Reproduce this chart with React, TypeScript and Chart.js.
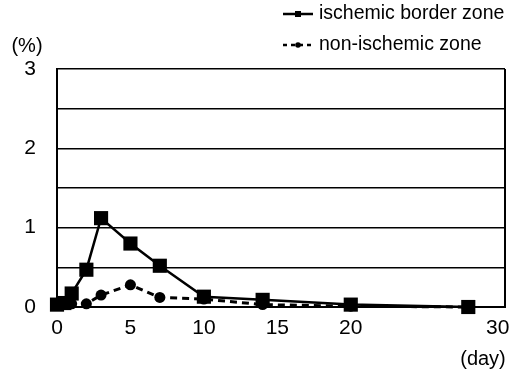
import React, { useEffect, useRef } from "react";
import { Chart, registerables } from "chart.js";

Chart.register(...registerables);

const FONT = "'Liberation Sans', Arial, Helvetica, sans-serif";

const days = [0, 0.5, 1, 2, 3, 5, 7, 10, 14, 20, 28];
const ischemicBorder = [0.03, 0.05, 0.17, 0.47, 1.12, 0.8, 0.52, 0.13, 0.09, 0.03, 0.0];
const nonIschemic = [0.02, 0.03, 0.04, 0.04, 0.15, 0.28, 0.12, 0.1, 0.03, 0.01, 0.0];
const xTickValues = [0, 5, 10, 15, 20, 30];
const yTickLabels = [0, 1, 2, 3];
const seriesNames = ["ischemic border zone", "non-ischemic zone"];

const extrasPlugin = {
  id: "extras",
  afterDraw(chart: any) {
    const { ctx, chartArea } = chart;
    ctx.save();
    // right border
    ctx.strokeStyle = "#000";
    ctx.lineWidth = 2;
    ctx.beginPath();
    ctx.moveTo(chartArea.right, chartArea.top);
    ctx.lineTo(chartArea.right, chartArea.bottom);
    ctx.stroke();
    // axis titles
    ctx.fillStyle = "#000";
    ctx.font = `20px ${FONT}`;
    ctx.textAlign = "center";
    ctx.textBaseline = "middle";
    ctx.fillText("(%)", 27, 46);
    ctx.fillText("(day)", 483, 359);
    // legend
    const lx0 = 283, lx1 = 313, tx = 319;
    const rows = [14, 45];
    ctx.textAlign = "left";
    ctx.font = `19.5px ${FONT}`;
    // row 1: solid with square
    ctx.lineWidth = 2.5;
    ctx.setLineDash([]);
    ctx.beginPath();
    ctx.moveTo(lx0, rows[0]);
    ctx.lineTo(lx1, rows[0]);
    ctx.stroke();
    ctx.fillRect((lx0 + lx1) / 2 - 3, rows[0] - 3, 6, 6);
    ctx.fillText(seriesNames[0], tx, rows[0]);
    // row 2: dashed with dot
    ctx.setLineDash([4, 4]);
    ctx.beginPath();
    ctx.moveTo(lx0, rows[1]);
    ctx.lineTo(lx1, rows[1]);
    ctx.stroke();
    ctx.setLineDash([]);
    ctx.beginPath();
    ctx.arc((lx0 + lx1) / 2, rows[1], 2.8, 0, Math.PI * 2);
    ctx.fill();
    ctx.fillText(seriesNames[1], tx, rows[1]);
    ctx.restore();
  },
};

export default function App() {
  const ref = useRef<HTMLCanvasElement | null>(null);
  useEffect(() => {
    if (!ref.current) return;
    const chart = new Chart(ref.current, {
      type: "line",
      data: {
        datasets: [
          {
            label: seriesNames[0],
            data: days.map((d, i) => ({ x: d, y: ischemicBorder[i] })),
            borderColor: "#000",
            backgroundColor: "#000",
            borderWidth: 2.5,
            pointStyle: "rect",
            pointRadius: 10,
            pointBorderWidth: 0,
            tension: 0,
            clip: false as any,
          },
          {
            label: seriesNames[1],
            data: days.map((d, i) => ({ x: d, y: nonIschemic[i] })),
            borderColor: "#000",
            backgroundColor: "#000",
            borderWidth: 3,
            borderDash: [7, 5],
            pointStyle: "circle",
            pointRadius: 5.5,
            pointBorderWidth: 0,
            tension: 0,
            clip: false as any,
          },
        ],
      },
      options: {
        animation: false,
        responsive: true,
        maintainAspectRatio: false,
        layout: { padding: { top: 69, right: 22, left: 0, bottom: 0 } },
        plugins: { legend: { display: false }, tooltip: { enabled: false } },
        scales: {
          x: {
            type: "linear",
            min: 0,
            max: 30.5,
            afterBuildTicks: (s: any) => {
              s.ticks = xTickValues.map((v) => ({ value: v }));
            },
            afterFit: (s: any) => {
              s.height = 72;
            },
            grid: { display: false, drawTicks: false },
            border: { display: true, color: "#000", width: 2 },
            ticks: {
              color: "#000",
              font: { size: 21, family: FONT },
              padding: 9,
              maxRotation: 0,
              autoSkip: false,
            },
          },
          y: {
            min: 0,
            max: 3,
            afterFit: (s: any) => {
              s.width = 57;
            },
            grid: { color: "#000", lineWidth: 1.5, drawTicks: false },
            border: { display: true, color: "#000", width: 2 },
            ticks: {
              stepSize: 0.5,
              color: "#000",
              font: { size: 21, family: FONT },
              padding: 21,
              callback: (v: any) => (yTickLabels.includes(v) ? String(v) : ""),
            },
          },
        },
      },
      plugins: [extrasPlugin],
    });
    return () => chart.destroy();
  }, []);
  return (
    <div style={{ position: "fixed", left: 0, top: 0, width: 527, height: 379, background: "#fff" }}>
      <canvas ref={ref} />
    </div>
  );
}
